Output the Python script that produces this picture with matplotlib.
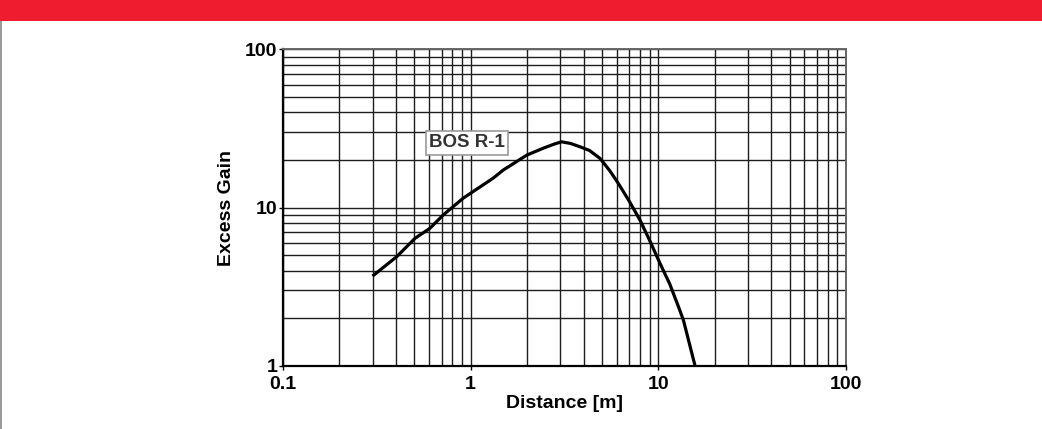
import matplotlib.pyplot as plt
from matplotlib.patches import Rectangle
from matplotlib.ticker import LogLocator, FixedLocator, FixedFormatter, NullFormatter

plt.rcParams['font.family'] = ['Liberation Sans', 'DejaVu Sans']

# curve (distance in m, excess gain)
distance = [0.3, 0.403, 0.505, 0.606, 0.714, 0.913, 1.32, 1.49, 1.99, 2.44,
            2.8, 3.05, 3.4, 3.82, 4.3, 4.89, 5.5, 6.11, 7.0, 7.98, 9.0, 10.2,
            11.5, 12.8, 13.6, 15.7]
gain = [3.7, 4.9, 6.41, 7.41, 9.0, 11.5, 15.4, 17.3, 21.5, 23.8,
        25.3, 26.1, 25.5, 24.3, 23.0, 20.5, 17.2, 14.3, 11.0, 8.37, 6.2, 4.46,
        3.3, 2.37, 1.95, 1.0]

x_ticks = [0.1, 1, 10, 100]
x_labels = ['0.1', '1', '10', '100']
y_ticks = [1, 10, 100]
y_labels = ['1', '10', '100']

fig = plt.figure(figsize=(10.42, 4.29), dpi=100)

# red banner and grey left edge
fig.patches.append(Rectangle((0, 1 - 21 / 429), 1, 21 / 429, transform=fig.transFigure,
                             facecolor='#ee1c2e', edgecolor='none', zorder=0))
fig.patches.append(Rectangle((0, 0), 2 / 1042, 1 - 21 / 429, transform=fig.transFigure,
                             facecolor='#9a9a9a', edgecolor='none', zorder=0))

ax = fig.add_axes([283 / 1042, 63 / 429, 563 / 1042, 316.5 / 429])
ax.set_xscale('log')
ax.set_yscale('log')
ax.set_xlim(0.1, 100)
ax.set_ylim(1, 100)

ax.xaxis.set_major_locator(FixedLocator(x_ticks))
ax.xaxis.set_major_formatter(FixedFormatter(x_labels))
ax.yaxis.set_major_locator(FixedLocator(y_ticks))
ax.yaxis.set_major_formatter(FixedFormatter(y_labels))
ax.xaxis.set_minor_locator(LogLocator(base=10, subs=range(2, 10)))
ax.yaxis.set_minor_locator(LogLocator(base=10, subs=range(2, 10)))
ax.xaxis.set_minor_formatter(NullFormatter())
ax.yaxis.set_minor_formatter(NullFormatter())

ax.grid(True, which='both', color='#1e1e1e', linewidth=1.0)
ax.set_axisbelow(True)
ax.tick_params(which='major', direction='out', length=3, width=1, pad=1,
               labelsize=14, colors='black')
ax.tick_params(axis='x', which='major', pad=4)
ax.tick_params(which='minor', length=0)
for lbl in ax.get_xticklabels() + ax.get_yticklabels():
    lbl.set_fontweight('bold')

for side in ['left', 'bottom']:
    ax.spines[side].set_linewidth(1.6)
    ax.spines[side].set_color('black')
for side in ['top', 'right']:
    ax.spines[side].set_linewidth(1.4)
    ax.spines[side].set_color('#666666')

ax.plot(distance, gain, color='black', linewidth=2.3, solid_capstyle='butt',
        solid_joinstyle='round', zorder=3)

ax.text(0.955, 25.7, 'BOS R-1', fontsize=13.5, fontweight='bold', color='#333333',
        ha='center', va='center', zorder=4,
        bbox=dict(boxstyle='square,pad=0.18', facecolor='white', edgecolor='#999999', linewidth=1.2))

ax.set_xlabel('Distance [m]', fontsize=14, fontweight='bold', labelpad=2)
ax.set_ylabel('Excess Gain', fontsize=14, fontweight='bold', labelpad=7)

fig.savefig('out.png', dpi=100)
